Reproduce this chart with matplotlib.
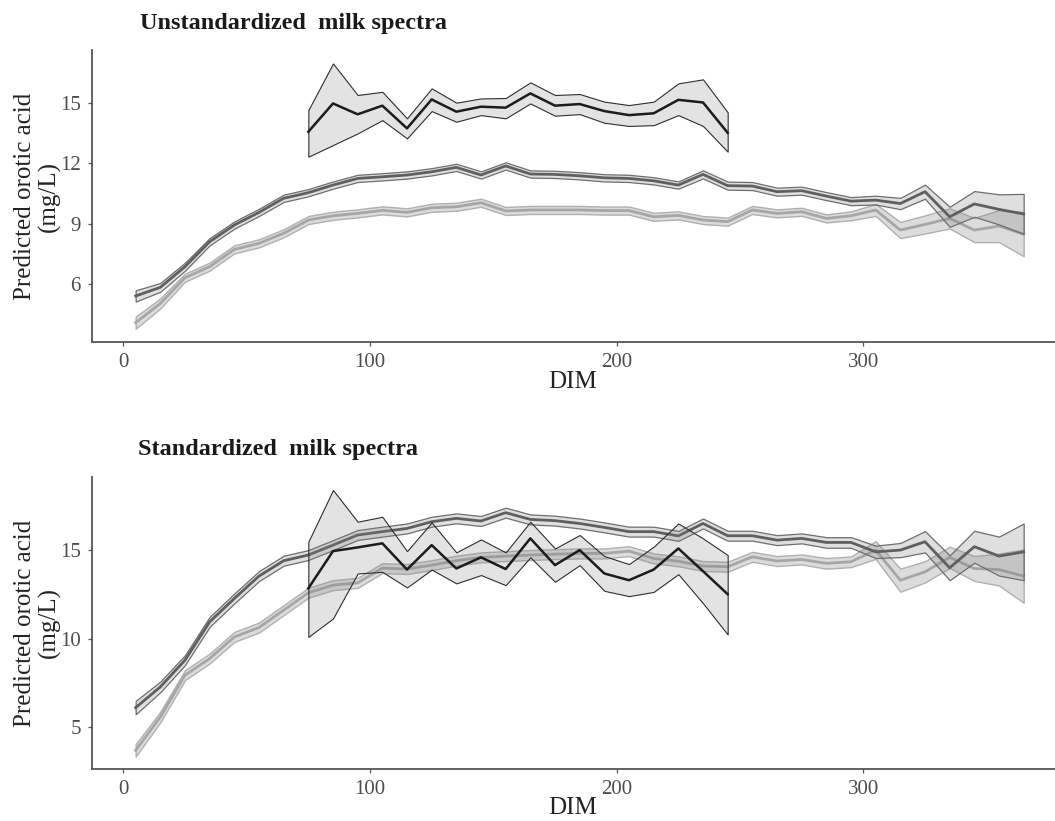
import numpy as np
import matplotlib
matplotlib.use("Agg")
from matplotlib import pyplot as plt

plt.rcParams['font.family'] = ['Liberation Serif', 'DejaVu Serif']

# days in milk
dim = [5, 15, 25, 35, 45, 55, 65, 75, 85, 95, 105, 115, 125, 135, 145, 155, 165, 175,
       185, 195, 205, 215, 225, 235, 245, 255, 265, 275, 285, 295, 305, 315, 325, 335,
       345, 355, 365]
dim_short = [75, 85, 95, 105, 115, 125, 135, 145, 155, 165, 175, 185, 195, 205, 215,
             225, 235, 245]

# --- unstandardized spectra ---
unstd_mid = [5.4, 5.83, 6.86, 8.1, 8.93, 9.56, 10.26, 10.54, 10.92, 11.25, 11.33, 11.42,
             11.58, 11.8, 11.42, 11.87, 11.47, 11.45, 11.38, 11.28, 11.25, 11.13, 10.92,
             11.45, 10.89, 10.87, 10.59, 10.64, 10.37, 10.12, 10.17, 10.0, 10.59, 9.34,
             9.98, 9.71, 9.48]
unstd_mid_ci = [0.28, 0.22, 0.2, 0.18, 0.18, 0.18, 0.18, 0.18, 0.18, 0.18, 0.18, 0.18,
                0.18, 0.18, 0.18, 0.18, 0.18, 0.18, 0.18, 0.18, 0.18, 0.18, 0.18, 0.2,
                0.2, 0.2, 0.2, 0.2, 0.2, 0.2, 0.22, 0.28, 0.35, 0.5, 0.64, 0.75, 1.0]
unstd_light = [4.07, 5.03, 6.31, 6.86, 7.72, 8.02, 8.52, 9.18, 9.39, 9.51, 9.66, 9.56,
               9.79, 9.84, 10.04, 9.63, 9.68, 9.68, 9.68, 9.65, 9.65, 9.34, 9.41, 9.18,
               9.1, 9.68, 9.51, 9.59, 9.26, 9.39, 9.68, 8.68, 8.96, 9.26, 8.68, 8.88, 8.48]
unstd_light_ci = [0.3, 0.25, 0.2, 0.2, 0.2, 0.2, 0.2, 0.2, 0.2, 0.2, 0.2, 0.2, 0.2, 0.2,
                  0.2, 0.2, 0.2, 0.2, 0.2, 0.2, 0.2, 0.2, 0.2, 0.2, 0.2, 0.2, 0.2, 0.2,
                  0.2, 0.22, 0.3, 0.4, 0.45, 0.5, 0.6, 0.8, 1.1]
unstd_dark = [13.57, 14.98, 14.44, 14.87, 13.74, 15.18, 14.57, 14.82, 14.77, 15.48, 14.87,
              14.95, 14.6, 14.4, 14.49, 15.16, 15.03, 13.52]
unstd_dark_hi = [14.65, 16.97, 15.4, 15.56, 14.24, 15.73, 15.02, 15.23, 15.25, 16.03, 15.4,
                 15.45, 15.07, 14.9, 15.07, 15.98, 16.18, 14.54]
unstd_dark_lo = [12.33, 12.91, 13.49, 14.15, 13.24, 14.6, 14.07, 14.4, 14.24, 14.98, 14.37,
                 14.45, 14.02, 13.86, 13.9, 14.4, 13.86, 12.58]

# --- standardized spectra ---
std_mid = [6.11, 7.28, 8.79, 10.95, 12.27, 13.53, 14.4, 14.72, 15.28, 15.85, 16.04, 16.22,
           16.6, 16.79, 16.64, 17.11, 16.73, 16.66, 16.5, 16.28, 16.04, 16.04, 15.8, 16.5,
           15.81, 15.81, 15.56, 15.66, 15.43, 15.43, 14.9, 15.0, 15.47, 14.0, 15.19,
           14.66, 14.9]
std_mid_ci = [0.38, 0.3, 0.28, 0.28, 0.28, 0.28, 0.28, 0.28, 0.28, 0.28, 0.28, 0.28, 0.28,
              0.28, 0.28, 0.28, 0.28, 0.28, 0.28, 0.28, 0.28, 0.28, 0.28, 0.28, 0.28, 0.28,
              0.28, 0.28, 0.3, 0.3, 0.35, 0.4, 0.6, 0.7, 0.9, 1.1, 1.6]
std_light = [3.7, 5.58, 7.94, 8.88, 10.1, 10.63, 11.61, 12.59, 13.02, 13.15, 13.98, 13.93,
             14.15, 14.4, 14.59, 14.66, 14.72, 14.77, 14.81, 14.81, 14.94, 14.53, 14.37,
             14.1, 14.06, 14.62, 14.38, 14.47, 14.25, 14.34, 15.0, 13.3, 13.77, 14.59,
             13.96, 13.9, 13.53]
std_light_ci = [0.35, 0.3, 0.28, 0.28, 0.28, 0.28, 0.28, 0.28, 0.28, 0.28, 0.28, 0.28,
                0.28, 0.28, 0.28, 0.28, 0.28, 0.28, 0.28, 0.28, 0.28, 0.28, 0.28, 0.28,
                0.28, 0.28, 0.28, 0.28, 0.3, 0.3, 0.5, 0.65, 0.6, 0.6, 0.7, 0.9, 1.5]
std_dark = [12.84, 14.94, 15.15, 15.38, 13.9, 15.28, 13.96, 14.59, 13.93, 15.66, 14.15,
            15.0, 13.68, 13.3, 13.9, 15.09, 13.81, 12.51]
std_dark_hi = [15.47, 18.39, 16.6, 16.88, 14.94, 16.56, 14.87, 15.6, 14.87, 16.6, 15.09,
               15.85, 14.66, 14.21, 15.19, 16.5, 15.66, 14.72]
std_dark_lo = [10.1, 11.14, 13.68, 13.77, 12.89, 13.9, 13.12, 13.59, 13.02, 14.59, 13.21,
               14.15, 12.7, 12.4, 12.64, 13.64, 12.0, 10.24]

W, H = 1055, 821
fig = plt.figure(figsize=(W / 100, H / 100), dpi=100)

axis_col = '#555555'
tick_col = '#4d4d4d'


def panel(rect, title, title_xy, mid, mid_ci, light, light_ci, dark, dark_hi, dark_lo,
          ylim, yticks, xlabel_y):
    ax = fig.add_axes(rect)
    x = np.array(dim)
    xs = np.array(dim_short)
    m, mc = np.array(mid), np.array(mid_ci)
    l, lc = np.array(light), np.array(light_ci)

    ax.fill_between(x, l - lc, l + lc, facecolor=(0.55, 0.55, 0.55, 0.3),
                    edgecolor='#b0b0b0', linewidth=1.0, zorder=1)
    ax.plot(x, l, color='#a6a6a6', lw=2.0, zorder=2)

    ax.fill_between(x, m - mc, m + mc, facecolor=(0.5, 0.5, 0.5, 0.25),
                    edgecolor='#6e6e6e', linewidth=0.9, zorder=3)
    ax.plot(x, m, color='#5f5f5f', lw=2.0, zorder=4)

    ax.fill_between(xs, dark_lo, dark_hi, facecolor=(0.5, 0.5, 0.5, 0.22),
                    edgecolor='#2e2e2e', linewidth=0.8, zorder=5)
    ax.plot(xs, dark, color='#1c1c1c', lw=1.8, zorder=6)

    ax.set_xlim(-12.7, 377.7)
    ax.set_ylim(*ylim)
    ax.set_xticks([0, 100, 200, 300])
    ax.set_yticks(yticks)
    for s in ['top', 'right']:
        ax.spines[s].set_visible(False)
    for s in ['left', 'bottom']:
        ax.spines[s].set_color(axis_col)
        ax.spines[s].set_linewidth(1.3)
    ax.tick_params(length=3, width=0.9, color=axis_col, labelcolor=tick_col,
                   labelsize=15, pad=5)

    fig.text(title_xy[0] / W, 1 - title_xy[1] / H, title, fontsize=17.5,
             fontweight='bold', color='#1a1a1a', ha='left', va='center')
    yc = 1 - (rect[1] + rect[3] / 2)
    fig.text(37 / W, 1 - yc, "Predicted orotic acid\n(mg/L)", rotation=90,
             ha='center', va='center', multialignment='center', fontsize=18,
             color='#222222', linespacing=1.1)
    fig.text(573 / W, 1 - xlabel_y / H, "DIM", ha='center', va='center',
             fontsize=18, color='#222222')
    return ax


left = 92 / W
width = 1 - left
panel([left, 1 - 342 / H, width, 292 / H], "Unstandardized  milk spectra", (140, 24),
      unstd_mid, unstd_mid_ci, unstd_light, unstd_light_ci, unstd_dark, unstd_dark_hi,
      unstd_dark_lo, (3.11, 17.64), [6, 9, 12, 15], 382)
panel([left, 1 - 769.3 / H, width, 292.6 / H], "Standardized  milk spectra", (138, 449),
      std_mid, std_mid_ci, std_light, std_light_ci, std_dark, std_dark_hi, std_dark_lo,
      (2.63, 19.14), [5, 10, 15], 808)

fig.savefig("out.png", dpi=100)
